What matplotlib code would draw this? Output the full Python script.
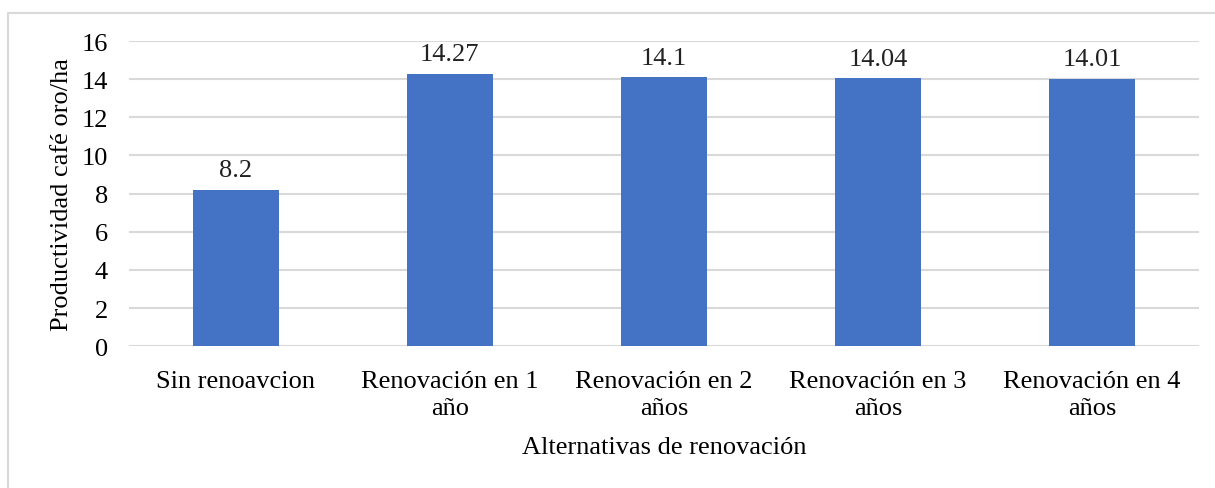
import matplotlib.pyplot as plt
from matplotlib.patches import Rectangle

categorias = ["Sin renoavcion", "Renovación en 1\naño", "Renovación en 2\naños",
              "Renovación en 3\naños", "Renovación en 4\naños"]
productividad = [8.2, 14.27, 14.1, 14.04, 14.01]
etiquetas = ["8.2", "14.27", "14.1", "14.04", "14.01"]

plt.rcParams['font.family'] = ['Liberation Serif', 'DejaVu Serif']
fs = 19

fig = plt.figure(figsize=(12.15, 4.89), dpi=100)
ax = fig.add_axes([0.106, 0.290, 0.881, 0.624])

# marco exterior del grafico
fig.patches.append(Rectangle((8 / 1215, -0.05), 1.2, 1 - 14 / 489 + 0.05,
                             transform=fig.transFigure, fill=False,
                             edgecolor="#d9d9d9", linewidth=1.5))

x = range(len(categorias))
bars = ax.bar(x, productividad, width=0.4, color="#4472C4", zorder=3)
for b, t in zip(bars, etiquetas):
    ax.text(b.get_x() + b.get_width() / 2, b.get_height() + 0.45, t,
            ha="center", va="bottom", fontsize=fs, color="#222222")

ax.set_xlim(-0.5, len(categorias) - 0.5)
ax.set_ylim(0, 16)
ax.set_yticks(range(0, 17, 2))
ax.set_xticks(list(x))
ax.set_xticklabels(categorias, fontsize=fs, linespacing=1.3)
ax.tick_params(axis="y", labelsize=fs, length=0, pad=15)
ax.tick_params(axis="x", length=0, pad=17)
ax.grid(axis="y", color="#d9d9d9", linewidth=1.5, zorder=0)
for s in ax.spines.values():
    s.set_visible(False)

ax.set_ylabel("Productividad café oro/ha", fontsize=fs, labelpad=6)
ax.set_xlabel("Alternativas de renovación", fontsize=fs, labelpad=12)

plt.savefig("out.png", dpi=100)
